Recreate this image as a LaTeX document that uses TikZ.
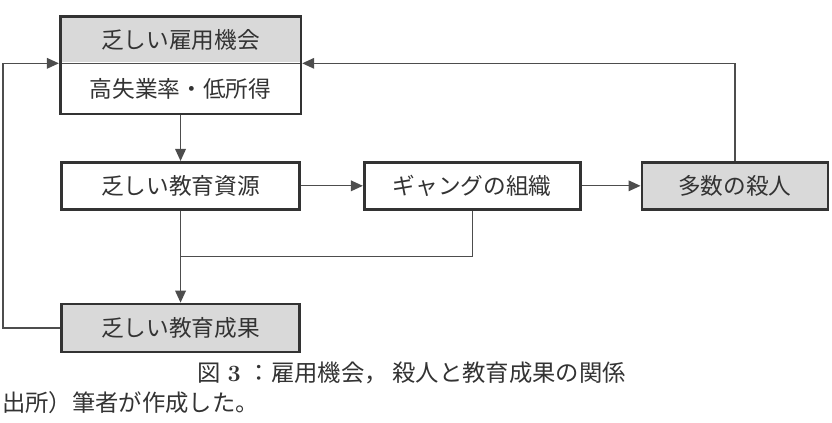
\documentclass[tikz,border=0pt]{standalone}
\usepackage{fontspec}
\usepackage{xcolor}
\usepackage{tikz}
\usetikzlibrary{arrows.meta,positioning,calc,fit}
\newfontfamily\jpfont{Noto Sans CJK JP}
\newcommand{\flowfont}{\jpfont\fontsize{17pt}{20pt}\selectfont}
\newcommand{\capfont}{\jpfont\fontsize{17.5pt}{20pt}\selectfont}
\definecolor{ink}{HTML}{333333}
\definecolor{wire}{HTML}{4D4D4D}
\definecolor{boxgray}{HTML}{D9D9D9}
\tikzset{
    flow box/.style={
        draw=ink,
        line width=2pt,
        fill=white,
        minimum height=35.25pt,
        minimum width=178.5pt,
        align=center,
        font=\flowfont,
        text=ink,
        inner sep=2pt
    },
    flow shaded/.style={flow box, fill=boxgray},
    flow part/.style={flow box, draw=none, minimum height=34pt},
    flow frame/.style={draw=ink, line width=2pt, inner sep=0pt},
    flow caption/.style={font=\capfont, text=ink, inner sep=0pt, anchor=west},
    flow arrow/.style={-{Triangle[length=9pt, width=8pt]}, line width=1pt, draw=wire},
    flow line/.style={line width=1pt, draw=wire}
}
\begin{document}
\begin{tikzpicture}
\useasboundingbox (0pt,0pt) rectangle (624pt,-317.25pt);
% Top: employment box in two parts
\node[flow part, fill=boxgray, minimum height=33pt] (emp) at (135.4pt,-30pt) {乏しい雇用機会};
\node[flow part, minimum height=36pt, below=0pt of emp] (inc) {高失業率・低所得};
\draw[wire, line width=0.6pt] (emp.south west) -- (emp.south east);
\node[flow frame, fit=(emp)(inc)] (empbox) {};

% Middle row
\node[flow box, below=35.25pt of inc] (res) {乏しい教育資源};
\node[flow box, minimum width=162pt, right=46.5pt of res] (gang) {ギャングの組織};
\node[flow shaded, minimum width=139.5pt, right=44.25pt of gang] (kill) {多数の殺人};

% Bottom: outcome
\node[flow shaded, minimum height=36pt, below=69pt of res] (out) {乏しい教育成果};
\coordinate (join) at ($(res.south)!0.5!(out.north)$);

\draw[flow arrow] (empbox.south -| inc.south) -- (res);
\draw[flow arrow] (res) -- (gang);
\draw[flow arrow] (gang) -- (kill);
\draw[flow arrow] (kill.north) |- (emp.south -| empbox.east);
\draw[flow arrow] (res) -- (out);
\draw[flow line] (gang.south) |- (join);
\draw[flow arrow] (out.west) -- ++(-43pt,0pt) |- (emp.south -| empbox.west);

% Caption
\node[flow caption] (cap) at (147.75pt,-279.75pt) {図\hspace{0.3em}{\rmfamily\bfseries 3}\hspace{0.3em}：雇用機会，\hspace{0.2em}殺人と教育成果の関係};
\node[flow caption] (src) at (1.5pt,-302.25pt) {出所）筆者が作成した。};
\end{tikzpicture}
\end{document}
